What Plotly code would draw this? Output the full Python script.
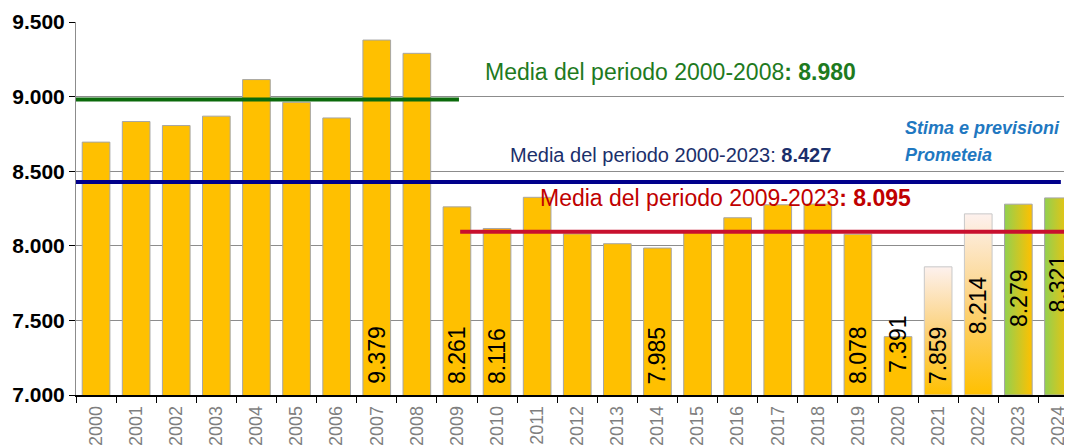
import plotly.graph_objects as go

# ---------------- data ----------------
years = [str(y) for y in range(2000, 2025)]
consumi = [8695, 8833, 8806, 8869, 9114, 8962, 8857, 9379, 9290,
           8261, 8116, 8325, 8080, 8014, 7985, 8101, 8188, 8275, 8280,
           8078, 7391, 7859, 8214, 8279, 8321]
labelled_years = ["2007", "2009", "2010", "2014", "2019", "2020", "2021", "2022", "2023", "2024"]
fade_years = ["2021", "2022"]          # estimates: vertical fade fill
forecast_years = ["2023", "2024"]      # Prometeia forecast: green->gold fill

mean_periods = ["2000-2008", "2000-2023", "2009-2023"]
mean_values = [8980, 8427, 8095]
y_ticks = [7000, 7500, 8000, 8500, 9000, 9500]

# ---------------- style / layout helpers ----------------
PAGE_OFF = 8                       # default body margin of the html page
W, H = 1072 - PAGE_OFF, 445 - PAGE_OFF
L, T = 76 - PAGE_OFF, 21.7 - PAGE_OFF
PLOT_BOTTOM = 395 - PAGE_OFF
B = H - PLOT_BOTTOM
SPACING = 40.1
X0 = -0.5
X1 = X0 + (W - L) / SPACING
YMIN, YMAX = 7000, 9500
PX_PER_UNIT = (PLOT_BOTTOM - T) / (YMAX - YMIN)
BAR_W = 0.69
GOLD = "#FFC000"
FONT = "Liberation Sans, Arial, sans-serif"


def px_x(px):  # page pixel -> x data
    return X0 + (px - 76) / SPACING


def px_y(py):  # page pixel -> y data
    return YMIN + (395 - py) / PX_PER_UNIT


def fmt(v):
    return f"{v:,}".replace(",", ".")


idx = list(range(len(years)))
fig = go.Figure()

# plain gold bars
plain = [i for i in idx if years[i] not in fade_years + forecast_years]
fig.add_trace(go.Bar(
    x=plain, y=[consumi[i] for i in plain], width=BAR_W,
    marker=dict(color=GOLD, line=dict(color="#A6A6A6", width=1)),
    showlegend=False, hoverinfo="skip"))

# gradient bars (filled polygons derived from the data)
for i in idx:
    yr = years[i]
    if yr not in fade_years + forecast_years:
        continue
    xl, xr = i - BAR_W / 2, i + BAR_W / 2
    v = consumi[i]
    if yr in fade_years:
        grad = dict(type="vertical", start=YMIN, stop=v,
                    colorscale=[[0, "#FFC000"], [0.5, "#FCD27C"], [1, "#FDF1EE"]])
        lc = "#C8C8C8"
    else:
        grad = dict(type="horizontal", start=xl, stop=xr,
                    colorscale=[[0, "#92D050"], [1, "#FFC000"]])
        lc = "#A6A6A6"
    fig.add_trace(go.Scatter(
        x=[xl, xr, xr, xl, xl], y=[YMIN, YMIN, v, v, YMIN],
        mode="lines", fill="toself", fillgradient=grad,
        line=dict(color=lc, width=1), showlegend=False, hoverinfo="skip"))

# mean lines
mean_colors = ["#0B6A0B", "#00008B", "#C8102E"]
mean_spans = [(X0, 9.05), (X0, 24.06), (9.08, X1)]
for val, col, (a, b) in zip(mean_values, mean_colors, mean_spans):
    fig.add_trace(go.Scatter(x=[a, b], y=[val, val], mode="lines",
                             line=dict(color=col, width=4),
                             showlegend=False, hoverinfo="skip"))

annotations = []
mean_text_colors = ["#1E7A1E", "#1B2F6B", "#C00000"]
mean_text_pos = [(483, 72, 23), (508, 155, 20), (538, 198, 23)]
for per, val, col, (lx, cy, fs) in zip(mean_periods, mean_values, mean_text_colors, mean_text_pos):
    colon_bold = per != "2000-2023"
    txt = (f"Media del periodo {per}<b>: {fmt(val)}</b>" if colon_bold
           else f"Media del periodo {per}: <b>{fmt(val)}</b>")
    annotations.append(dict(x=px_x(lx), y=px_y(cy), xref="x", yref="y",
                            text=txt, showarrow=False, xanchor="left", yanchor="middle",
                            font=dict(family=FONT, size=fs, color=col)))

for t, cy in [("Stima e previsioni", 128), ("Prometeia", 155)]:
    annotations.append(dict(x=px_x(903), y=px_y(cy), xref="x", yref="y",
                            text=f"<b><i>{t}</i></b>", showarrow=False,
                            xanchor="left", yanchor="middle",
                            font=dict(family=FONT, size=18, color="#1F78C1")))

label_mid = {"2020": 7342, "2022": 7603, "2023": 7652, "2024": 7750}
for i in idx:
    yr = years[i]
    if yr not in labelled_years:
        continue
    if yr in label_mid:
        annotations.append(dict(x=i, y=label_mid[yr], xref="x", yref="y",
                                text=fmt(consumi[i]), textangle=-90, showarrow=False,
                                xanchor="center", yanchor="middle",
                                font=dict(family=FONT, size=23, color="black")))
    else:
        annotations.append(dict(x=i, y=YMIN, xref="x", yref="y", yshift=9,
                                text=fmt(consumi[i]), textangle=-90, showarrow=False,
                                xanchor="center", yanchor="bottom",
                                font=dict(family=FONT, size=23, color="black")))

fig.update_layout(
    width=W, height=H,
    margin=dict(l=L, r=0, t=T, b=B, pad=0),
    paper_bgcolor="white", plot_bgcolor="white",
    separators=",.",
    bargap=0.3,
    annotations=annotations,
    xaxis=dict(
        range=[X0, X1], tickmode="array", tickvals=idx, ticktext=years,
        tickangle=-90, ticks="", ticklabelstandoff=2,
        showgrid=False, zeroline=False,
        showline=True, linecolor="black", linewidth=1.5,
        tickfont=dict(family=FONT, size=18, color="#7F7F7F"),
        minor=dict(tickmode="array", tickvals=[i + 0.5 for i in range(-1, 25)],
                   ticks="outside", ticklen=6, tickcolor="black", tickwidth=1,
                   showgrid=False),
        automargin=False, fixedrange=True,
    ),
    yaxis=dict(
        range=[YMIN, YMAX], tickmode="array", tickvals=y_ticks, tickformat=",d",
        ticks="outside", ticklen=6, tickcolor="black",
        showgrid=True, gridcolor="#8C8C8C", gridwidth=1, zeroline=False,
        showline=True, linecolor="#8C8C8C", linewidth=1,
        tickfont=dict(family=FONT, size=21, color="black", weight="bold"),
        automargin=False, fixedrange=True,
    ),
)

fig.write_html("out.html")
